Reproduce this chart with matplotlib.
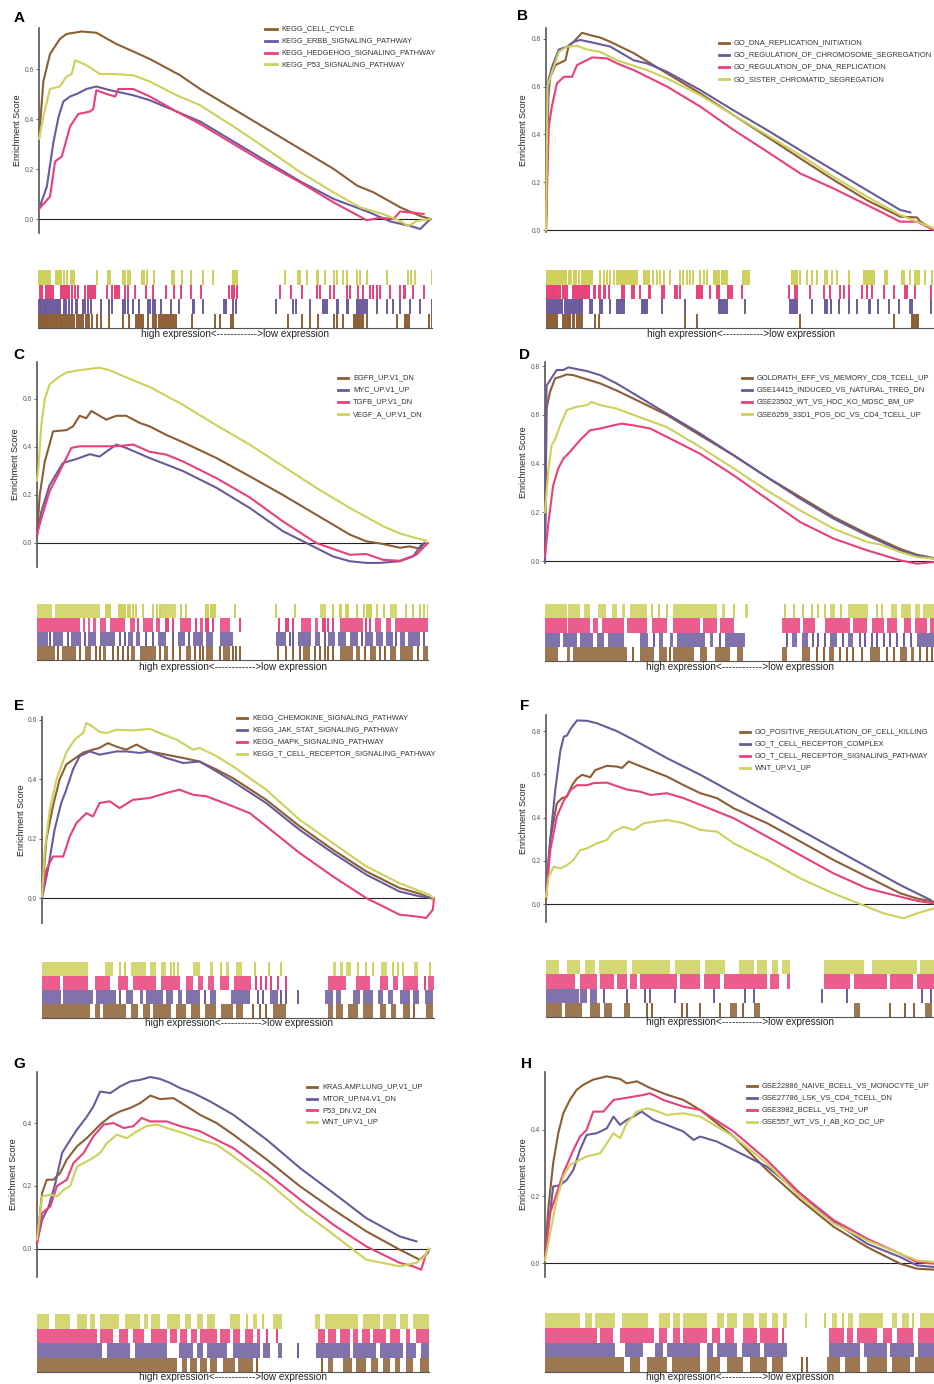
import matplotlib
matplotlib.use("Agg")
import matplotlib.pyplot as plt
from matplotlib.lines import Line2D

plt.rcParams['font.family'] = ['Liberation Sans', 'DejaVu Sans']

W, H = 934, 1384
COLORS = ['#8C5E34', '#6A5A9C', '#E8407A', '#CDD05A']

# ---------------- Panel A ----------------
A_names = ['KEGG_CELL_CYCLE', 'KEGG_ERBB_SIGNALING_PATHWAY', 'KEGG_HEDGEHOG_SIGNALING_PATHWAY', 'KEGG_P53_SIGNALING_PATHWAY']
A1_x = [0, 1.1, 2.8, 5.3, 7, 10.8, 14.6, 19.7, 24, 28.2, 35.9, 41, 49.5, 58, 66.5, 75, 81, 85.2, 92, 97, 99.6]
A1_y = [0.32, 0.55, 0.66, 0.72, 0.74, 0.75, 0.745, 0.70, 0.67, 0.64, 0.575, 0.52, 0.44, 0.36, 0.28, 0.20, 0.133, 0.106, 0.046, 0.012, 0.0]
A2_x = [0, 2, 3.7, 5, 6.2, 7.9, 9.6, 12.1, 14.6, 18.1, 24, 28.2, 35, 41, 49.5, 58, 66.5, 75, 81.8, 84.3, 89.4, 94.5, 97, 99.6]
A2_y = [0.04, 0.13, 0.31, 0.41, 0.47, 0.49, 0.50, 0.52, 0.53, 0.515, 0.495, 0.475, 0.43, 0.39, 0.31, 0.23, 0.15, 0.08, 0.04, 0.025, -0.01, -0.028, -0.04, 0.0]
A3_x = [0, 2.8, 4.1, 5.8, 7.9, 10, 13, 13.8, 14.6, 17.2, 19.4, 20.2, 24, 28.2, 35, 41, 49.5, 58, 66.5, 75, 83.4, 86.8, 90.2, 91.9, 95.3, 97.9]
A3_y = [0.04, 0.09, 0.23, 0.25, 0.37, 0.42, 0.43, 0.44, 0.515, 0.50, 0.49, 0.52, 0.52, 0.49, 0.43, 0.38, 0.30, 0.22, 0.146, 0.066, -0.005, 0.005, 0.0, 0.03, 0.025, 0.02]
A4_x = [0, 1.1, 2.8, 5.3, 7, 8.3, 9.2, 12.1, 15.5, 18.9, 24, 28.2, 35, 41, 49.5, 58, 66.5, 75, 81.8, 87.7, 91.9, 94, 96.1, 99.6]
A4_y = [0.32, 0.41, 0.52, 0.53, 0.57, 0.58, 0.635, 0.615, 0.58, 0.58, 0.575, 0.55, 0.495, 0.455, 0.37, 0.28, 0.187, 0.106, 0.046, 0.019, -0.008, -0.028, -0.008, 0.0]
A1_hits = [0, 0.3, 0.7, 1, 1.4, 1.7, 2.0, 2.4, 2.8, 3.2, 3.7, 4.1, 4.5, 4.9, 5.3, 5.8, 6.2, 6.6, 7, 7.6, 8.1, 8.6, 9.2, 9.8, 10.3, 10.9, 11.5, 12.1,
           12.6, 13, 13.7, 15.1, 16, 18.1, 21.6, 23.2, 24.9, 25.3, 25.7, 26.2, 26.6, 27.8, 29.1, 29.5, 30, 30.8, 31.2, 31.7, 32.1, 32.5,
           32.9, 33.4, 33.8, 34.2, 34.6, 35.1, 39.1, 44.8, 46.1, 49.1, 49.5, 63.5, 66.9, 69, 71.1, 75, 75.8, 77.5, 80.1, 80.5, 80.9,
           81.3, 81.7, 82.2, 82.6, 83.4, 91.1, 93.2, 93.6, 94.1, 99.2, 100]
A2_hits = [0, 0.4, 0.8, 1.3, 1.7, 2.1, 2.5, 3.0, 3.4, 3.8, 4.2, 4.7, 5.1, 5.5, 6.6, 7.0, 7.9, 8.7, 9.6, 10, 11.3, 12, 12.6, 13.4, 16,
           18.1, 18.9, 21.6, 22.2, 22.8, 24, 25.7, 27.8, 28.4, 29.1, 29.8, 31.2, 33.8, 35.9, 39.3, 39.7, 41.9, 47.1, 47.8, 49.5, 50.2,
           60.5, 64.8, 65.4, 69, 72.4, 72.8, 73.3, 75.8, 76.2, 78.4, 78.8, 80.9, 81.3, 81.7, 82.2, 82.6, 83, 83.4, 86, 88.5, 90.2,
           91.9, 94.5, 97, 100]
A3_hits = [0.4, 0.9, 2.0, 2.4, 2.8, 3.2, 3.7, 5.8, 6.2, 6.6, 7.0, 7.5, 7.9, 8.7, 9.4, 10.1, 12, 12.6, 13.2, 13.6, 14, 14.4, 17.4,
           18.9, 19.5, 20, 20.5, 22.2, 22.8, 24.7, 27.4, 29.1, 32.5, 34.6, 36.3, 38.9, 41.4, 48.6, 49.2, 49.8, 50.4, 61.4, 64.1, 67.1,
           70.9, 71.6, 74.1, 75, 78.4, 79.2, 81.3, 82.6, 84.3, 85.1, 86, 86.8, 89.4, 91.9, 92.8, 93.2, 95.3, 97.9]
A4_hits = [0, 0.4, 0.8, 1.3, 1.7, 2.1, 2.5, 3.0, 4.5, 4.9, 5.3, 5.9, 6.6, 7.3, 8.3, 8.7, 9.2, 14.9, 17.7, 18.3, 21.6, 22.2, 22.8,
           23.3, 26.4, 27, 27.6, 29.5, 34, 34.6, 36.6, 38.9, 41.9, 44.4, 49.5, 50, 50.6, 62.6, 66, 66.5, 68.2, 70.7, 71.1, 72.8, 75,
           75.8, 77.5, 78.4, 80.9, 81.6, 83.4, 88.5, 94, 94.7, 95.8, 100]
A1_blocks = []
A2_blocks = []
A3_blocks = []
A4_blocks = []

# ---------------- Panel B ----------------
B_names = ['GO_DNA_REPLICATION_INITIATION', 'GO_REGULATION_OF_CHROMOSOME_SEGREGATION', 'GO_REGULATION_OF_DNA_REPLICATION', 'GO_SISTER_CHROMATID_SEGREGATION']
B1_x = [0, 0.4, 1.1, 2.4, 3.7, 5, 5.8, 7.1, 9.3, 11.4, 14, 16.6, 22.6, 31.2, 39.8, 48.4, 57, 65.5, 74.1, 82.7, 91.3, 95.6, 96.5, 100]
B1_y = [0, 0.54, 0.64, 0.69, 0.70, 0.71, 0.767, 0.787, 0.825, 0.815, 0.805, 0.787, 0.74, 0.655, 0.571, 0.48, 0.39, 0.30, 0.21, 0.125, 0.056, 0.053, 0.035, 0.0]
B2_x = [0, 0.7, 1.5, 3.3, 5.4, 7.1, 8.8, 12.3, 16.6, 22.6, 26, 31.2, 39.8, 48.4, 57, 65.5, 74.1, 82.7, 91.3, 93.9]
B2_y = [0, 0.63, 0.68, 0.755, 0.767, 0.787, 0.795, 0.783, 0.767, 0.71, 0.697, 0.662, 0.585, 0.50, 0.418, 0.334, 0.25, 0.167, 0.084, 0.074]
B3_x = [0, 0.7, 1.5, 2.8, 4.6, 6.7, 8, 9.7, 11.9, 15.7, 18.3, 22.6, 31.2, 39.8, 48.4, 57, 65.5, 74.1, 82.7, 91.3, 95.6, 100]
B3_y = [0, 0.43, 0.516, 0.613, 0.641, 0.641, 0.69, 0.704, 0.722, 0.718, 0.697, 0.669, 0.60, 0.516, 0.418, 0.328, 0.237, 0.174, 0.105, 0.035, 0.035, 0.0]
B4_x = [0, 0.4, 1.5, 3.3, 5.4, 8, 10.6, 14, 18.3, 26, 31.2, 39.8, 48.4, 57, 65.5, 74.1, 82.7, 91.3, 100]
B4_y = [0, 0.60, 0.66, 0.745, 0.767, 0.77, 0.755, 0.745, 0.71, 0.669, 0.634, 0.564, 0.48, 0.397, 0.314, 0.223, 0.14, 0.063, 0.007]
B1_hits = [0.3, 0.7, 1.1, 1.5, 2, 2.4, 2.8, 4.5, 4.9, 5.4, 5.8, 6.2, 6.9, 7.2, 7.9, 8.4, 8.8, 9.2, 12.7, 13.6, 35.9, 38.9, 65.5,
           89.6, 94.3, 94.7, 95.2, 95.6, 96]
B2_hits = [0, 0.3, 0.7, 1, 1.4, 1.7, 2.1, 2.4, 2.7, 3.1, 3.4, 3.8, 4.1, 5, 5.4, 5.8, 6.3, 6.7, 7.1, 7.5, 8, 8.4, 8.8, 9.3, 11.4,
           11.8, 14, 14.4, 16.6, 18.3, 18.7, 19.2, 19.6, 20, 24.7, 25.2, 25.6, 26, 29.9, 35.9, 44.5, 44.9, 45.4, 45.8, 46.2, 46.6,
           51.4, 62.9, 63.4, 63.8, 64.3, 64.7, 68.6, 72, 72.5, 73.5, 75.4, 78, 80.1, 83.2, 83.6, 85.6, 88.3, 90.9, 93.9, 94.3, 99.1]
B3_hits = [0, 0.3, 0.7, 1, 1.4, 1.7, 2.1, 2.4, 2.7, 3.1, 3.7, 4.4, 5, 5.4, 6.9, 7.3, 7.6, 8, 8.3, 8.7, 9, 9.3, 9.7, 10, 10.3,
           10.7, 11, 12.3, 12.7, 13.6, 14, 14.9, 15.3, 16.2, 19.6, 20, 22.2, 22.6, 24.3, 26.5, 26.9, 29.9, 30.3, 33.3, 33.7, 34.6,
           38.9, 39.3, 39.8, 40.2, 42.3, 44, 44.5, 47, 47.4, 47.9, 50.5, 62.5, 64.3, 64.7, 68.1, 71.6, 73.3, 75.9, 76.7, 78, 81.4,
           82.7, 84, 87, 89.6, 92.6, 93, 95.2, 99.1]
B4_hits = [0, 0.4, 0.9, 1.3, 1.7, 2.1, 2.6, 3.0, 3.4, 3.9, 4.3, 4.7, 5.2, 5.8, 6.4, 7.1, 7.8, 8.4, 9.3, 9.7, 10.1, 10.6, 11, 11.4,
           11.9, 14, 14.9, 15.7, 16.6, 17.4, 18.3, 18.7, 19.2, 19.6, 20, 20.4, 20.9, 21.3, 21.7, 22.2, 22.6, 23, 23.5, 25.2, 25.6, 26,
           26.5, 27.7, 28.6, 29.4, 30.3, 32, 34.6, 35.4, 36.3, 37.1, 38, 39.8, 40.6, 41.5, 43.2, 43.6, 44, 44.5, 45.3, 45.8, 46.2,
           46.6, 50.9, 51.3, 51.8, 52.2, 63.4, 63.8, 64.3, 64.7, 65.5, 67.3, 68.6, 69.9, 72, 72.5, 73.7, 75, 78, 81.9, 82.3, 82.7,
           83.2, 83.6, 84, 84.5, 87.4, 87.8, 91.7, 92.2, 93.9, 95.2, 95.6, 96.1, 97.8, 99.5]
B1_blocks = []
B2_blocks = []
B3_blocks = []
B4_blocks = []

# ---------------- Panel C ----------------
C_names = ['EGFR_UP.V1_DN', 'MYC_UP.V1_UP', 'TGFB_UP.V1_DN', 'VEGF_A_UP.V1_DN']
C1_x = [0, 0.7, 2, 3.2, 4.1, 7.5, 9.2, 10.9, 12.6, 13.9, 16, 17.7, 20.3, 22.8, 26.3, 28.8, 33.1, 37.3, 45.9, 54.4, 62.9, 71.4, 80, 84.2, 88.5, 92.8, 95.3, 97.9, 99.1]
C1_y = [0.03, 0.2, 0.34, 0.41, 0.465, 0.47, 0.486, 0.53, 0.52, 0.55, 0.53, 0.514, 0.53, 0.53, 0.50, 0.486, 0.45, 0.42, 0.354, 0.278, 0.2, 0.118, 0.035, 0.007, -0.004, -0.02, -0.014, -0.024, 0.0]
C2_x = [0, 1.1, 3.2, 5.4, 6.6, 10.1, 13.5, 16, 17.7, 20.3, 22.8, 28.8, 37.3, 45.9, 54.4, 62.9, 68.9, 75.7, 80, 84.2, 87.6, 92.8, 96.2, 98.3, 99.1]
C2_y = [0.03, 0.13, 0.24, 0.30, 0.333, 0.35, 0.37, 0.36, 0.38, 0.41, 0.396, 0.354, 0.30, 0.23, 0.146, 0.049, 0.0, -0.056, -0.076, -0.083, -0.083, -0.076, -0.056, -0.007, 0.0]
C3_x = [0, 1.1, 3.2, 5.4, 7.5, 8.8, 10.9, 16, 20.3, 24.6, 28.8, 33.1, 37.3, 45.9, 54.4, 62.9, 71.4, 80, 84.2, 88.5, 92.8, 97, 100]
C3_y = [0.04, 0.10, 0.215, 0.285, 0.354, 0.396, 0.403, 0.403, 0.403, 0.41, 0.38, 0.368, 0.34, 0.27, 0.19, 0.09, 0.0, -0.049, -0.046, -0.07, -0.074, -0.049, 0.0]
C4_x = [0, 0.3, 1.1, 2, 3.2, 5.4, 7.5, 10.9, 14.3, 16, 18.6, 22.8, 28.8, 37.3, 45.9, 54.4, 62.9, 71.4, 80, 88.5, 92.8, 97, 99.6]
C4_y = [0.26, 0.30, 0.49, 0.60, 0.66, 0.69, 0.71, 0.72, 0.727, 0.73, 0.72, 0.69, 0.65, 0.576, 0.49, 0.41, 0.32, 0.23, 0.146, 0.07, 0.04, 0.02, 0.01]
C1_blocks = [(0, 4.5), (6.3, 10.1), (12.2, 13.9), (16.9, 17.7), (24.1, 25), (26.3, 30.5), (32.6, 33.5), (38.2, 39.5), (43.3, 45),
             (47.6, 49.3), (68, 69.7), (77.4, 80.8), (81.7, 82.5), (85.1, 86.8), (90.2, 91.9), (92.8, 96.2), (98.7, 100)]
C1_hits = [5.4, 10.9, 15.2, 16, 19.4, 20.7, 22, 23.3, 31.4, 34.8, 36.5, 40.3, 41.6, 42.5, 46.7, 50.1, 51, 51.8, 61.6, 63.8, 65.5,
           67.2, 71, 72.3, 73.6, 74.4, 75.7, 83.8, 87.6, 88.9, 97.4]
C2_blocks = [(0, 2.8), (4.1, 6.6), (8.8, 11.3), (13, 15.2), (16, 19.9), (23.3, 24.6), (25.4, 26.3), (30.9, 33.1), (36.1, 37.8),
             (39.9, 42.5), (43.3, 45), (46.7, 50.1), (61.2, 63.8), (66.8, 70.2), (71, 72.3), (74.4, 76.1), (77, 79.1), (80, 82.1),
             (83.8, 85.9), (86.8, 88.5), (89.3, 91), (92.8, 94), (94.9, 97.9)]
C2_hits = [3.2, 7.9, 12.2, 21.1, 22.4, 28, 29.7, 34.8, 39, 64.6, 65.5, 73.6, 83, 91.9, 99.1]
C3_blocks = [(0, 11), (11.8, 12.2), (13.1, 13.5), (14.3, 15.2), (16, 17.7), (18.6, 22.4), (23.7, 25), (27.1, 29.7), (30.5, 31.4),
             (36.5, 39.5), (41.6, 42.5), (46.7, 49.3), (67.6, 70.2), (71, 71.9), (77.4, 83.4), (86.4, 88.1), (89.3, 90.6), (91.5, 100)]
C3_hits = [25.8, 33.1, 33.5, 34.8, 40.7, 43.3, 43.7, 45, 51.8, 62, 63.8, 64.2, 65.5, 73.1, 73.6, 74.4, 75.7, 84.2, 85.1]
C4_blocks = [(0, 3.8), (4.5, 16), (31.8, 35.6), (72.3, 74), (90.3, 92)]
C4_hits = [17.7, 18.1, 18.6, 21, 21.5, 21.9, 22.4, 23.2, 23.7, 24.6, 25.4, 27.1, 29.7, 30.6, 31.4, 36.9, 38.2, 43.3, 43.7, 44.6,
           45, 45.5, 50.6, 61.2, 65.9, 75.7, 77.4, 77.8, 79.1, 79.6, 81.9, 83.6, 84.5, 84.9, 85.3, 87, 88.7, 94.5, 96.2, 97.9, 99.1, 100]

# ---------------- Panel D ----------------
D_names = ['GOLDRATH_EFF_VS_MEMORY_CD8_TCELL_UP', 'GSE14415_INDUCED_VS_NATURAL_TREG_DN', 'GSE23502_WT_VS_HDC_KO_MDSC_BM_UP', 'GSE6259_33D1_POS_DC_VS_CD4_TCELL_UP']
D1_x = [0, 0.4, 1.3, 2.6, 3.9, 5.6, 7.3, 9.9, 14.2, 18.4, 22.7, 31.3, 39.9, 48.5, 57, 65.6, 74.2, 82.8, 91.3, 95.6, 100]
D1_y = [0.0, 0.626, 0.695, 0.75, 0.756, 0.766, 0.763, 0.75, 0.729, 0.70, 0.667, 0.60, 0.516, 0.434, 0.345, 0.263, 0.181, 0.112, 0.05, 0.026, 0.012]
D2_x = [0, 0.4, 1.3, 3, 4.7, 6, 8.1, 10.7, 14.2, 18.4, 22.7, 31.3, 39.9, 48.5, 57, 65.6, 74.2, 82.8, 91.3, 95.6, 100]
D2_y = [0.0, 0.72, 0.742, 0.784, 0.784, 0.795, 0.788, 0.78, 0.763, 0.729, 0.688, 0.605, 0.523, 0.434, 0.345, 0.256, 0.174, 0.105, 0.044, 0.023, 0.01]
D3_x = [0, 0.9, 2.1, 3.4, 4.7, 6.4, 9, 11.6, 14.2, 17.6, 19.7, 22.7, 27, 31.3, 39.9, 48.5, 57, 65.6, 74.2, 82.8, 91.3, 95.6, 100]
D3_y = [0.023, 0.16, 0.31, 0.38, 0.42, 0.448, 0.496, 0.537, 0.544, 0.557, 0.564, 0.557, 0.544, 0.51, 0.44, 0.352, 0.256, 0.16, 0.092, 0.044, 0.003, -0.011, -0.004]
D4_x = [0, 0.9, 1.7, 2.6, 3.9, 5.6, 8.1, 10.7, 12, 14.2, 18.4, 22.7, 31.3, 39.9, 48.5, 57, 65.6, 74.2, 82.8, 86.2, 91.3, 95.6, 100]
D4_y = [0.2, 0.38, 0.475, 0.50, 0.557, 0.62, 0.633, 0.64, 0.653, 0.64, 0.626, 0.60, 0.55, 0.468, 0.38, 0.29, 0.208, 0.133, 0.078, 0.068, 0.037, 0.016, 0.01]
D1_blocks = [(0, 3.4), (5.6, 6.4), (7.3, 21), (24.4, 27.9), (29.2, 31.3), (33, 38.2), (39.9, 41.6), (43.7, 47.6), (49.4, 51),
             (60.9, 62.2), (66, 68.2), (72.9, 74.2), (83.6, 86.2), (91.3, 93), (94, 94.8)]
D1_hits = [22.7, 32.2, 69.9, 71.6, 75.9, 77.6, 79.3, 81.5, 87.9, 89.6, 96.5, 98.2, 99.5]
D2_blocks = [(0, 3.9), (4.7, 8.1), (9, 12.4), (13.3, 15.1), (16.3, 20.2), (24.4, 26.6), (29.2, 30.4), (32.2, 33), (33.9, 41.2),
             (42.4, 43.3), (46.3, 51.5), (63.5, 64.8), (66, 67.7), (73.3, 75), (78, 79.3), (95.6, 100)]
D2_hits = [27.9, 45, 62.2, 69, 70.3, 72, 76.7, 81, 82.3, 84.1, 85.3, 87.1, 88.8, 90.5, 92.2, 94]
D3_blocks = [(0, 5.6), (6, 11.6), (12.4, 13.7), (14.6, 20.2), (21, 26.2), (27.4, 31.3), (33, 39.9), (40.7, 44.1), (45, 48.5),
             (60.9, 65.6), (66.4, 69.4), (72, 78.5), (79.3, 82.8), (84.1, 87.1), (88, 90.5), (92.2, 94), (95.2, 98.2), (99, 100)]
D3_hits = []
D4_blocks = [(0, 5.6), (6, 9), (9.9, 11.6), (13.7, 15.8), (17.2, 18.4), (19.7, 20.6), (21.9, 26.2), (33, 44.1), (45.5, 46.3),
             (51.5, 52.3), (73.3, 74.6), (77.9, 83), (88.9, 90.5), (91.4, 94), (95.2, 96.5), (97.3, 100)]
D4_hits = [27.4, 29.2, 31.3, 48.5, 61.7, 63.9, 66.4, 68.6, 70.3, 72, 76.1, 85.3, 86.6]

# ---------------- Panel E ----------------
E_names = ['KEGG_CHEMOKINE_SIGNALING_PATHWAY', 'KEGG_JAK_STAT_SIGNALING_PATHWAY', 'KEGG_MAPK_SIGNALING_PATHWAY', 'KEGG_T_CELL_RECEPTOR_SIGNALING_PATHWAY']
E1_x = [0, 1.1, 2.8, 4.5, 6.2, 7.9, 10.5, 13, 14.7, 16.8, 19, 21.5, 24.1, 27.5, 31.7, 36, 40.2, 44.5, 48.7, 57.2, 65.7, 74.2, 82.7, 91.2, 96.3, 99.7]
E1_y = [0.006, 0.197, 0.31, 0.40, 0.45, 0.466, 0.49, 0.50, 0.506, 0.522, 0.51, 0.50, 0.517, 0.494, 0.483, 0.472, 0.46, 0.433, 0.404, 0.331, 0.242, 0.163, 0.09, 0.034, 0.015, -0.003]
E2_x = [0, 1.5, 3.2, 4.9, 6.2, 7.9, 9.6, 12.2, 14.7, 19, 21.5, 24.9, 27.5, 31.7, 36, 40.2, 44.5, 48.7, 57.2, 65.7, 74.2, 82.7, 91.2, 96.3, 99.7]
E2_y = [0, 0.095, 0.23, 0.32, 0.365, 0.433, 0.478, 0.494, 0.483, 0.494, 0.494, 0.489, 0.494, 0.472, 0.455, 0.46, 0.427, 0.393, 0.32, 0.23, 0.152, 0.079, 0.022, 0.006, 0]
E3_x = [0, 1.1, 2.8, 5.4, 7.1, 8.8, 11.3, 13, 14.7, 17.3, 19.8, 23.2, 27.5, 31.7, 35.1, 38.5, 41.9, 48.7, 53, 57.2, 65.7, 74.2, 82.7, 87, 91.2, 95.5, 98, 99.7, 100]
E3_y = [0.011, 0.095, 0.14, 0.14, 0.208, 0.253, 0.286, 0.275, 0.32, 0.326, 0.303, 0.331, 0.337, 0.354, 0.365, 0.348, 0.343, 0.309, 0.286, 0.242, 0.152, 0.073, 0.0, -0.028, -0.056, -0.062, -0.067, -0.039, 0.0]
E4_x = [0, 0.7, 2, 3.7, 6.2, 8.3, 10.5, 11.3, 12.6, 14.7, 16.4, 19, 23.2, 27.5, 30, 34.3, 38.5, 40.2, 44.5, 48.7, 57.2, 65.7, 74.2, 82.7, 91.2, 95.5, 98.9, 99.7]
E4_y = [0.006, 0.16, 0.30, 0.40, 0.49, 0.534, 0.556, 0.59, 0.58, 0.56, 0.556, 0.567, 0.565, 0.57, 0.556, 0.534, 0.50, 0.506, 0.478, 0.444, 0.365, 0.264, 0.185, 0.107, 0.05, 0.028, 0.011, 0.0]
E1_blocks = [(0, 12.2), (13.4, 14.7), (15.6, 21.5), (22.8, 24.5), (25.8, 27.5), (28.3, 33), (34.3, 36.8), (38.1, 40.2), (41.5, 44.5),
             (45.7, 48.7), (49.6, 51.3), (58.9, 62.3), (73, 74.2), (75.1, 76.8), (78, 80.6), (81.9, 84.4), (86.1, 87.8), (89.1, 90.4),
             (92.1, 93.8), (98, 99.7)]
E1_hits = [53.8, 55.5, 57.2, 95]
E2_blocks = [(0, 4.9), (5.4, 13), (13.9, 19), (21.5, 23.2), (24.9, 25.8), (26.6, 30.9), (31.7, 33.4), (34.7, 35.6), (36.8, 40.2),
             (42.8, 44.5), (48.3, 53), (58.1, 60.2), (72.1, 74.2), (75.1, 76.3), (79.3, 81), (81.9, 84.4), (85.7, 87), (88.3, 89.5),
             (91.2, 93.8), (94.6, 96.3), (97.6, 99.7)]
E2_hits = [19.8, 41.5, 55.1, 56.4, 61, 62.3, 65.3]
E3_blocks = [(0, 4.5), (5.4, 11.7), (13.4, 17.3), (19.4, 21.9), (23.2, 29.1), (30.4, 35.1), (36.8, 38.5), (39.8, 41.1), (42.3, 44),
             (45.3, 47.8), (49.1, 53.4), (73, 77.6), (80.2, 83.6), (86.1, 88.3), (89.5, 90.8), (92.1, 95.9), (98.5, 100)]
E3_hits = [54.7, 55.9, 57.2, 58.5, 60.2, 62.3, 97.6]
E4_blocks = [(0, 11.7), (16, 18.1), (22.8, 26.6), (27.5, 29.2), (30.4, 31.7), (38.5, 40.2), (42.8, 43.6), (47, 47.8), (49.4, 50.9),
             (74.2, 75.1), (75.9, 76.8), (77.6, 78.9), (86.6, 87.9), (95, 95.9)]
E4_hits = [19.8, 21.1, 33, 33.8, 34.7, 45.7, 54.3, 58, 61, 80.7, 82.7, 84.4, 89.5, 90.8, 92.1, 98.9]

# ---------------- Panel F ----------------
F_names = ['GO_POSITIVE_REGULATION_OF_CELL_KILLING', 'GO_T_CELL_RECEPTOR_COMPLEX', 'GO_T_CELL_RECEPTOR_SIGNALING_PATHWAY', 'WNT_UP.V1_UP']
F1_x = [0, 1.1, 2.8, 4.1, 5.4, 6.7, 8, 9.3, 11.4, 12.7, 15.7, 18.3, 19.6, 21.3, 23.5, 26.9, 31.2, 35.5, 39.8, 44.1, 48.4, 57, 65.5, 74.1, 82.7, 91.3, 95.6, 100]
F1_y = [0.019, 0.30, 0.466, 0.49, 0.497, 0.55, 0.582, 0.598, 0.587, 0.62, 0.64, 0.636, 0.63, 0.66, 0.644, 0.62, 0.59, 0.55, 0.513, 0.49, 0.443, 0.374, 0.29, 0.204, 0.127, 0.05, 0.026, 0.011]
F2_x = [0, 1.1, 2.4, 3.7, 4.6, 5.4, 6.3, 8, 10.6, 13.1, 18.3, 22.6, 31.2, 39.8, 48.4, 57, 65.5, 74.1, 82.7, 91.3, 99.1]
F2_y = [0.065, 0.30, 0.53, 0.71, 0.775, 0.78, 0.81, 0.85, 0.848, 0.837, 0.80, 0.76, 0.675, 0.598, 0.513, 0.428, 0.343, 0.258, 0.173, 0.088, 0.019]
F3_x = [0, 1.1, 2.8, 4.6, 6.3, 8, 10.6, 12.3, 15.7, 17.4, 20.9, 24.3, 26.9, 31.2, 35.5, 39.8, 48.4, 57, 65.5, 74.1, 82.7, 91.3, 95.6, 100]
F3_y = [0.034, 0.25, 0.405, 0.48, 0.528, 0.55, 0.55, 0.56, 0.562, 0.551, 0.53, 0.52, 0.505, 0.513, 0.49, 0.459, 0.397, 0.312, 0.227, 0.142, 0.073, 0.034, 0.015, 0.003]
F4_x = [0, 0.7, 2, 3.7, 5.4, 7.1, 8.8, 10.6, 13.1, 15.7, 17.4, 20, 22.6, 25.2, 27.7, 31.2, 35.5, 39.8, 44.1, 48.4, 57, 65.5, 74.1, 82.7, 87, 92.2, 95.6, 100]
F4_y = [0.034, 0.127, 0.173, 0.165, 0.18, 0.204, 0.25, 0.258, 0.281, 0.297, 0.335, 0.358, 0.343, 0.374, 0.381, 0.389, 0.374, 0.343, 0.335, 0.281, 0.204, 0.119, 0.049, -0.012, -0.043, -0.066, -0.043, -0.02]
F1_blocks = [(0, 4.1), (5, 9.3), (11.4, 14), (14.9, 17), (20, 21.7), (47.5, 49.2), (53.5, 55.2), (79.3, 81), (97.8, 99.5)]
F1_hits = [26, 27.3, 35, 36.3, 39.8, 44.9, 50.9, 88.7, 92.6, 94.8]
F2_blocks = [(0, 8.4), (8.8, 10.6), (11.4, 13.1)]
F2_hits = [14.9, 20.9, 25.6, 26.9, 33.3, 43.2, 51.4, 53.5, 71.1, 77.6, 96.9, 99.1]
F3_blocks = [(0, 7.6), (8.8, 13.1), (14, 17.4), (18.3, 20.9), (21.7, 23.5), (24.3, 33.8), (34.6, 39.8), (40.6, 44.9), (45.8, 57),
             (57.8, 60), (62.1, 63), (71.6, 78.4), (79.3, 87.9), (88.7, 94.7), (95.6, 100)]
F3_hits = []
F4_blocks = [(0, 3.3), (5.4, 8.8), (10.1, 12.7), (13.6, 20.9), (22.2, 32), (33.3, 39.8), (41.1, 46.2), (49.7, 53.5), (54.4, 56.9),
             (58.2, 59.9), (60.8, 63), (71.6, 81.9), (84.1, 95.6), (96.5, 100)]
F4_hits = []

# ---------------- Panel G ----------------
G_names = ['KRAS.AMP.LUNG_UP.V1_UP', 'MTOR_UP.N4.V1_DN', 'P53_DN.V2_DN', 'WNT_UP.V1_UP']
G1_x = [0, 1.3, 2.5, 4.2, 5.9, 7.6, 10.2, 12.7, 16.1, 18.7, 21.2, 23.8, 26.3, 28.9, 31.4, 34.8, 38.2, 41.6, 45.8, 50.1, 58.6, 67.1, 75.6, 84, 92.5, 97.6, 99.7, 100]
G1_y = [0.019, 0.178, 0.22, 0.22, 0.241, 0.284, 0.326, 0.352, 0.395, 0.421, 0.437, 0.448, 0.463, 0.487, 0.476, 0.479, 0.453, 0.426, 0.40, 0.363, 0.284, 0.199, 0.125, 0.056, -0.002, -0.034, -0.013, 0.0]
G2_x = [0, 1.3, 3, 4.7, 6.4, 8.5, 10.2, 12.7, 14.4, 16.1, 18.7, 21.2, 23.8, 26.3, 28.9, 31.4, 34, 36.5, 39.9, 44.1, 50.1, 58.6, 67.1, 75.6, 84, 92.5, 96.8]
G2_y = [0.019, 0.093, 0.135, 0.21, 0.305, 0.347, 0.379, 0.42, 0.453, 0.50, 0.495, 0.516, 0.532, 0.537, 0.546, 0.54, 0.527, 0.511, 0.495, 0.469, 0.426, 0.347, 0.257, 0.178, 0.098, 0.04, 0.024]
G3_x = [0, 1.3, 3.4, 5.1, 7.6, 9.3, 11.9, 14.4, 17, 19.5, 22.1, 24.6, 26.7, 28.9, 33.1, 36.5, 41.6, 45.8, 50.1, 58.6, 67.1, 75.6, 84, 92.5, 95.9, 98, 99.3, 100]
G3_y = [0.019, 0.114, 0.135, 0.20, 0.22, 0.273, 0.305, 0.358, 0.395, 0.40, 0.384, 0.39, 0.416, 0.405, 0.405, 0.39, 0.374, 0.347, 0.32, 0.241, 0.157, 0.077, 0.008, -0.044, -0.055, -0.066, -0.013, 0.0]
G4_x = [0, 1.3, 3.4, 5.1, 6.8, 8.5, 10.2, 13.6, 16.1, 17.8, 20.4, 22.9, 25.5, 28, 30.6, 33.1, 37.4, 41.6, 45.8, 50.1, 58.6, 67.1, 75.6, 84, 92.5, 96.8, 98.9, 100]
G4_y = [0.03, 0.167, 0.172, 0.167, 0.188, 0.2, 0.262, 0.284, 0.305, 0.336, 0.363, 0.352, 0.374, 0.39, 0.395, 0.384, 0.368, 0.347, 0.331, 0.294, 0.215, 0.125, 0.046, -0.034, -0.055, -0.044, -0.023, 0.0]
G1_blocks = [(0, 35.7), (36.9, 38.2), (39, 40.7), (41.6, 43.3), (44.1, 45.8), (47.5, 50.5), (51.4, 55.2), (74.2, 75.6), (78.1, 80.3),
             (81.5, 84), (85.3, 87), (88.3, 90), (91.3, 92.5), (94.2, 95.9), (97.6, 100)]
G1_hits = [56, 72.6]
G2_blocks = [(0, 16.6), (17.8, 23.8), (25.1, 33.1), (36.1, 39.9), (40.7, 42.4), (43.3, 48.4), (50.1, 56.9), (57.7, 59.4), (61.5, 62.4),
             (71.3, 79.8), (80.6, 86.6), (87.4, 93.4), (94.2, 96.8), (98, 100)]
G2_hits = [66.6]
G3_blocks = [(0, 15.3), (16.1, 19.5), (20.8, 23.3), (24.6, 27.2), (29.2, 33.1), (34, 35.7), (36.5, 38.2), (39.4, 40.7), (41.6, 45.8),
             (46.7, 49.2), (50.1, 51.8), (53.1, 55.2), (56, 56.9), (71.7, 73.4), (74.2, 76.4), (77.2, 79.8), (80.6, 81.9), (82.8, 84.9),
             (85.7, 89.1), (90, 92.5), (94.2, 95.1), (96.8, 100)]
G3_hits = [58.6, 61.1]
G4_blocks = [(0, 3), (4.7, 8.5), (10.2, 12.7), (13.6, 14.9), (16.1, 20.8), (22.5, 26.3), (27.2, 28.4), (29.2, 31.4), (33.1, 36.5),
             (37.8, 39.4), (40.7, 42.4), (43.3, 45.4), (49.2, 51.8), (55.2, 56), (60.3, 62.4), (70.9, 72.2), (73.4, 81.9), (83.2, 87.4),
             (88.3, 91.6), (92.5, 94.6), (95.9, 100)]
G4_hits = [53.5, 57.7]

# ---------------- Panel H ----------------
H_names = ['GSE22886_NAIVE_BCELL_VS_MONOCYTE_UP', 'GSE27786_LSK_VS_CD4_TCELL_DN', 'GSE3982_BCELL_VS_TH2_UP', 'GSE557_WT_VS_I_AB_KO_DC_UP']
H1_x = [0, 0.9, 2.1, 3.4, 4.7, 6.4, 8.1, 9.9, 12.4, 15.9, 19.3, 21, 23.6, 27, 31.3, 35.6, 39.9, 44.2, 48.5, 57, 65.6, 74.2, 82.8, 91.3, 95.6, 100]
H1_y = [0.028, 0.169, 0.30, 0.39, 0.45, 0.49, 0.52, 0.536, 0.551, 0.561, 0.553, 0.54, 0.546, 0.526, 0.506, 0.49, 0.46, 0.42, 0.38, 0.28, 0.19, 0.109, 0.048, -0.002, -0.017, -0.02]
H2_x = [0, 1.3, 2.1, 3.9, 5.6, 7.3, 9, 10.7, 13.3, 15.9, 17.6, 19.3, 21, 22.7, 24.9, 27.9, 31.3, 35.6, 38.2, 39.9, 44.2, 48.5, 57, 65.6, 74.2, 82.8, 91.3, 95.6, 100]
H2_y = [0.028, 0.149, 0.23, 0.234, 0.25, 0.28, 0.34, 0.385, 0.39, 0.405, 0.44, 0.415, 0.43, 0.44, 0.455, 0.43, 0.415, 0.395, 0.37, 0.38, 0.365, 0.34, 0.29, 0.209, 0.124, 0.058, 0.018, -0.007, -0.012]
H3_x = [0, 1.3, 3, 4.7, 7.3, 9, 10.7, 12.4, 15, 17.6, 20.2, 22.7, 25.3, 27, 30.4, 35.6, 39.9, 48.5, 57, 65.6, 74.2, 82.8, 91.3, 95.6, 100]
H3_y = [0.018, 0.149, 0.209, 0.27, 0.34, 0.38, 0.40, 0.455, 0.455, 0.49, 0.495, 0.50, 0.505, 0.51, 0.49, 0.47, 0.46, 0.395, 0.31, 0.209, 0.129, 0.073, 0.028, 0.003, -0.002]
H4_x = [0, 1.3, 3, 4.7, 6.4, 8.1, 10.7, 14.2, 15.9, 17.6, 19.3, 21, 23.6, 26.2, 27.9, 31.3, 35.6, 39.9, 48.5, 57, 65.6, 74.2, 82.8, 91.3, 95.6, 100]
H4_y = [0.008, 0.088, 0.19, 0.26, 0.295, 0.305, 0.32, 0.33, 0.36, 0.39, 0.375, 0.42, 0.455, 0.465, 0.46, 0.445, 0.45, 0.44, 0.38, 0.30, 0.199, 0.119, 0.068, 0.028, 0.008, 0.003]
H1_blocks = [(0, 20.2), (21.9, 24.4), (26.2, 31.3), (32.6, 39.9), (41.6, 45), (46.7, 51), (52.7, 57), (58.3, 61.3), (72.5, 75.9),
             (77.2, 81), (82.8, 87.9), (89.2, 93.9), (95.2, 100)]
H1_hits = [66, 67.3]
H2_blocks = [(0, 18), (20.6, 25.3), (28.3, 30.4), (31.3, 39.9), (41.6, 43.3), (44.2, 49.3), (50.6, 55.3), (56.2, 62.2), (72.9, 81),
             (81.9, 87.9), (88.8, 94.8), (96, 100)]
H2_hits = []
H3_blocks = [(0, 13.3), (14.2, 17.6), (19.3, 27.9), (29.2, 31.3), (33, 34.7), (35.6, 41.6), (42.9, 45), (46.3, 48.5), (51, 54.5),
             (55.3, 60), (72.9, 76.8), (77.6, 79.3), (80.2, 85.3), (87, 89.2), (90.5, 94.7), (96, 100)]
H3_hits = [61.3]
H4_blocks = [(0, 9), (10.3, 12), (12.9, 18), (19.7, 26.6), (29.2, 32.2), (33, 34.7), (35.6, 41.6), (44.2, 45.9), (46.7, 49.3),
             (51, 53.6), (54.9, 57), (58.3, 60), (61.3, 62.1), (66.9, 67.3), (73.8, 75), (78, 79.2), (80.6, 87), (89.2, 90.5),
             (91.7, 93.5), (96.5, 100)]
H4_hits = [72, 76.7, 94.7]

XLABEL = 'high expression<------------>low expression'
YLABEL = 'Enrichment Score'

panels = [
    dict(tag='A', names=A_names, series=[(A1_x, A1_y, A1_hits, A1_blocks), (A2_x, A2_y, A2_hits, A2_blocks), (A3_x, A3_y, A3_hits, A3_blocks), (A4_x, A4_y, A4_hits, A4_blocks)],
         es=(39, 432, 28, 233), ylim=(-0.056, 0.764), yticks=[0, 0.2, 0.4, 0.6], rug=(38, 432, 270, 328),
         lab=(19, 18), leg=(265, 277, 281, 29, 11.8), xl=(235, 334), ylx=17),
    dict(tag='B', names=B_names, series=[(B1_x, B1_y, B1_hits, B1_blocks), (B2_x, B2_y, B2_hits, B2_blocks), (B3_x, B3_y, B3_hits, B3_blocks), (B4_x, B4_y, B4_hits, B4_blocks)],
         es=(546, 934, 28, 232), ylim=(-0.008, 0.845), yticks=[0, 0.2, 0.4, 0.6, 0.8], rug=(546, 934, 270, 328),
         lab=(523, 16), leg=(719, 729, 734, 43, 12.1), xl=(741, 334), ylx=524),
    dict(tag='C', names=C_names, series=[(C1_x, C1_y, C1_hits, C1_blocks), (C2_x, C2_y, C2_hits, C2_blocks), (C3_x, C3_y, C3_hits, C3_blocks), (C4_x, C4_y, C4_hits, C4_blocks)],
         es=(37, 428, 362, 567), ylim=(-0.1, 0.754), yticks=[0, 0.2, 0.4, 0.6], rug=(37, 428, 604, 660),
         lab=(19, 355), leg=(338, 348, 353, 378, 12.1), xl=(233, 667), ylx=15),
    dict(tag='D', names=D_names, series=[(D1_x, D1_y, D1_hits, D1_blocks), (D2_x, D2_y, D2_hits, D2_blocks), (D3_x, D3_y, D3_hits, D3_blocks), (D4_x, D4_y, D4_hits, D4_blocks)],
         es=(545, 934, 362, 563), ylim=(-0.008, 0.817), yticks=[0, 0.2, 0.4, 0.6, 0.8], rug=(545, 934, 604, 661),
         lab=(525, 355), leg=(742, 752, 757, 378, 12.1), xl=(740, 667), ylx=523),
    dict(tag='E', names=E_names, series=[(E1_x, E1_y, E1_hits, E1_blocks), (E2_x, E2_y, E2_hits, E2_blocks), (E3_x, E3_y, E3_hits, E3_blocks), (E4_x, E4_y, E4_hits, E4_blocks)],
         es=(42, 434, 717, 923), ylim=(-0.084, 0.61), yticks=[0, 0.2, 0.4, 0.6], rug=(42, 434, 962, 1018),
         lab=(19, 706), leg=(237, 247, 252, 718, 12.0), xl=(239, 1023), ylx=21),
    dict(tag='F', names=F_names, series=[(F1_x, F1_y, F1_hits, F1_blocks), (F2_x, F2_y, F2_hits, F2_blocks), (F3_x, F3_y, F3_hits, F3_blocks), (F4_x, F4_y, F4_hits, F4_blocks)],
         es=(546, 934, 715, 922), ylim=(-0.083, 0.875), yticks=[0, 0.2, 0.4, 0.6, 0.8], rug=(546, 934, 960, 1017),
         lab=(525, 706), leg=(740, 750, 755, 732, 12.0), xl=(740, 1022), ylx=524),
    dict(tag='G', names=G_names, series=[(G1_x, G1_y, G1_hits, G1_blocks), (G2_x, G2_y, G2_hits, G2_blocks), (G3_x, G3_y, G3_hits, G3_blocks), (G4_x, G4_y, G4_hits, G4_blocks)],
         es=(37, 429, 1072, 1277), ylim=(-0.089, 0.562), yticks=[0, 0.2, 0.4], rug=(37, 429, 1314, 1372),
         lab=(19, 1064), leg=(307, 317, 322, 1087, 11.7), xl=(233, 1377), ylx=14),
    dict(tag='H', names=H_names, series=[(H1_x, H1_y, H1_hits, H1_blocks), (H2_x, H2_y, H2_hits, H2_blocks), (H3_x, H3_y, H3_hits, H3_blocks), (H4_x, H4_y, H4_hits, H4_blocks)],
         es=(545, 934, 1072, 1277), ylim=(-0.042, 0.574), yticks=[0, 0.2, 0.4], rug=(545, 934, 1313, 1372),
         lab=(527, 1064), leg=(747, 757, 762, 1086, 12.0), xl=(740, 1377), ylx=523),
]


def rect(l, r, t, b):
    return [l / W, 1 - b / H, (r - l) / W, (b - t) / H]


def fx(x):
    return x / W


def fy(y):
    return 1 - y / H


fig = plt.figure(figsize=(W / 100, H / 100), dpi=100)
fig.patch.set_facecolor('white')

for p in panels:
    ax = fig.add_axes(rect(*p['es']))
    ax.set_xlim(0, 100)
    ax.set_ylim(*p['ylim'])
    for s in ['top', 'right', 'bottom']:
        ax.spines[s].set_visible(False)
    ax.spines['left'].set_color('#555555')
    ax.spines['left'].set_linewidth(1.2)
    ax.set_xticks([])
    ax.set_yticks(p['yticks'])
    ax.set_yticklabels(['%.1f' % v for v in p['yticks']])
    ax.tick_params(axis='y', length=2, width=0.6, colors='#555555', labelsize=4.8, pad=1.5,
                   labelcolor='#4d5566')
    ax.axhline(0, color='#222222', lw=0.8, zorder=1)
    ax.patch.set_alpha(0)
    for k, (xs, ys, hits, blocks) in enumerate(p['series']):
        ax.plot(xs, ys, color=COLORS[k], lw=1.5, clip_on=False, zorder=3 + k * 0.1,
                solid_joinstyle='round')

    # rug
    rx = fig.add_axes(rect(*p['rug']))
    rx.set_xlim(0, 100)
    rx.set_ylim(0, 4)
    for s in ['top', 'right', 'left']:
        rx.spines[s].set_visible(False)
    rx.spines['bottom'].set_color('#555555')
    rx.spines['bottom'].set_linewidth(0.8)
    rx.set_xticks([])
    rx.set_yticks([])
    rx.patch.set_alpha(0)
    for k, (xs, ys, hits, blocks) in enumerate(p['series']):
        if blocks:
            rx.broken_barh([(a, b - a) for a, b in blocks], (k, 1), facecolors=COLORS[k],
                           alpha=0.85, linewidth=0)
        if hits:
            rx.vlines(hits, k, k + 1, colors=COLORS[k], linewidth=1.4)

    # texts
    fig.text(fx(p['lab'][0]), fy(p['lab'][1]), p['tag'], fontsize=11, fontweight='bold',
             ha='center', va='center')
    l0, l1, tx, ty0, dy = p['leg']
    for k, name in enumerate(p['names']):
        yy = ty0 + k * dy
        fig.add_artist(Line2D([fx(l0), fx(l1)], [fy(yy), fy(yy)], color=COLORS[k], lw=2.0))
        fig.text(fx(tx), fy(yy), name, fontsize=5.4, ha='left', va='center', color='#333333')
    fig.text(fx(p['xl'][0]), fy(p['xl'][1]), XLABEL, fontsize=7.2, ha='center', va='center',
             color='#222222')
    t, b = p['es'][2], p['es'][3]
    fig.text(fx(p['ylx']), fy((t + b) / 2), YLABEL, fontsize=6.5, rotation=90, ha='center',
             va='center', color='#222222')

fig.savefig('out.png', dpi=100, facecolor='white')
